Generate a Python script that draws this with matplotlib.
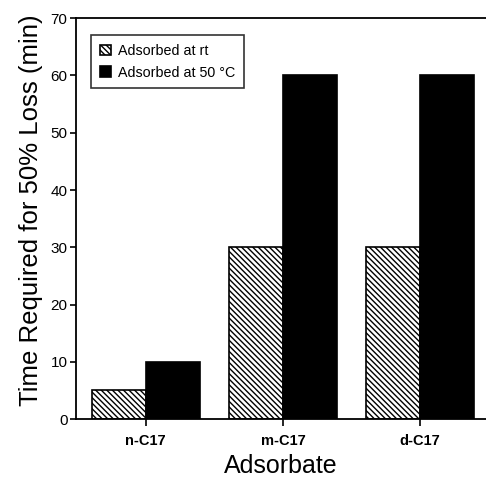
import numpy as np
import matplotlib.pyplot as plt

plt.rcParams['font.family'] = ['Liberation Sans', 'DejaVu Sans']
plt.rcParams['hatch.linewidth'] = 1.0

# data
adsorbates = ['n-C17', 'm-C17', 'd-C17']
t_rt = [5, 30, 30]      # adsorbed at room temperature
t_50 = [10, 60, 60]     # adsorbed at 50 °C

x = np.arange(len(adsorbates))
w = 0.395

fig = plt.figure(figsize=(4.86, 4.79), dpi=100)
ax = fig.add_axes([0.156, 0.125, 0.844, 0.837])

ax.bar(x - w/2, t_rt, w, color='white', edgecolor='black', hatch='\\' * 6,
       linewidth=1.2, label='Adsorbed at rt')
ax.bar(x + w/2, t_50, w, color='black', edgecolor='black',
       linewidth=1.2, label='Adsorbed at 50 °C')

ax.set_xlim(-0.51, 2.48)
ax.set_ylim(0, 70)
ax.set_yticks(np.arange(0, 71, 10))
ax.set_xticks(x)
ax.set_xticklabels(adsorbates, fontweight='bold', fontsize=10.5)
ax.tick_params(axis='y', labelsize=11, length=4, width=1.2, pad=2)
ax.tick_params(axis='x', length=5, width=1.2, pad=6)

ax.spines['right'].set_visible(False)
for s in ['left', 'top', 'bottom']:
    ax.spines[s].set_linewidth(1.3)

ax.set_xlabel('Adsorbate', fontsize=18, labelpad=4)
ax.set_ylabel('Time Required for 50% Loss (min)', fontsize=18.5)
ax.yaxis.set_label_coords(-0.08, 0.522)

leg = ax.legend(loc='upper left', bbox_to_anchor=(0.02, 0.975), fontsize=10.3,
                frameon=True, fancybox=False, handlelength=0.8, handleheight=0.8,
                handletextpad=0.5, borderpad=0.6, labelspacing=0.55)
leg.get_frame().set_edgecolor('black')
leg.get_frame().set_linewidth(1.2)

fig.savefig('out.png', dpi=100)
